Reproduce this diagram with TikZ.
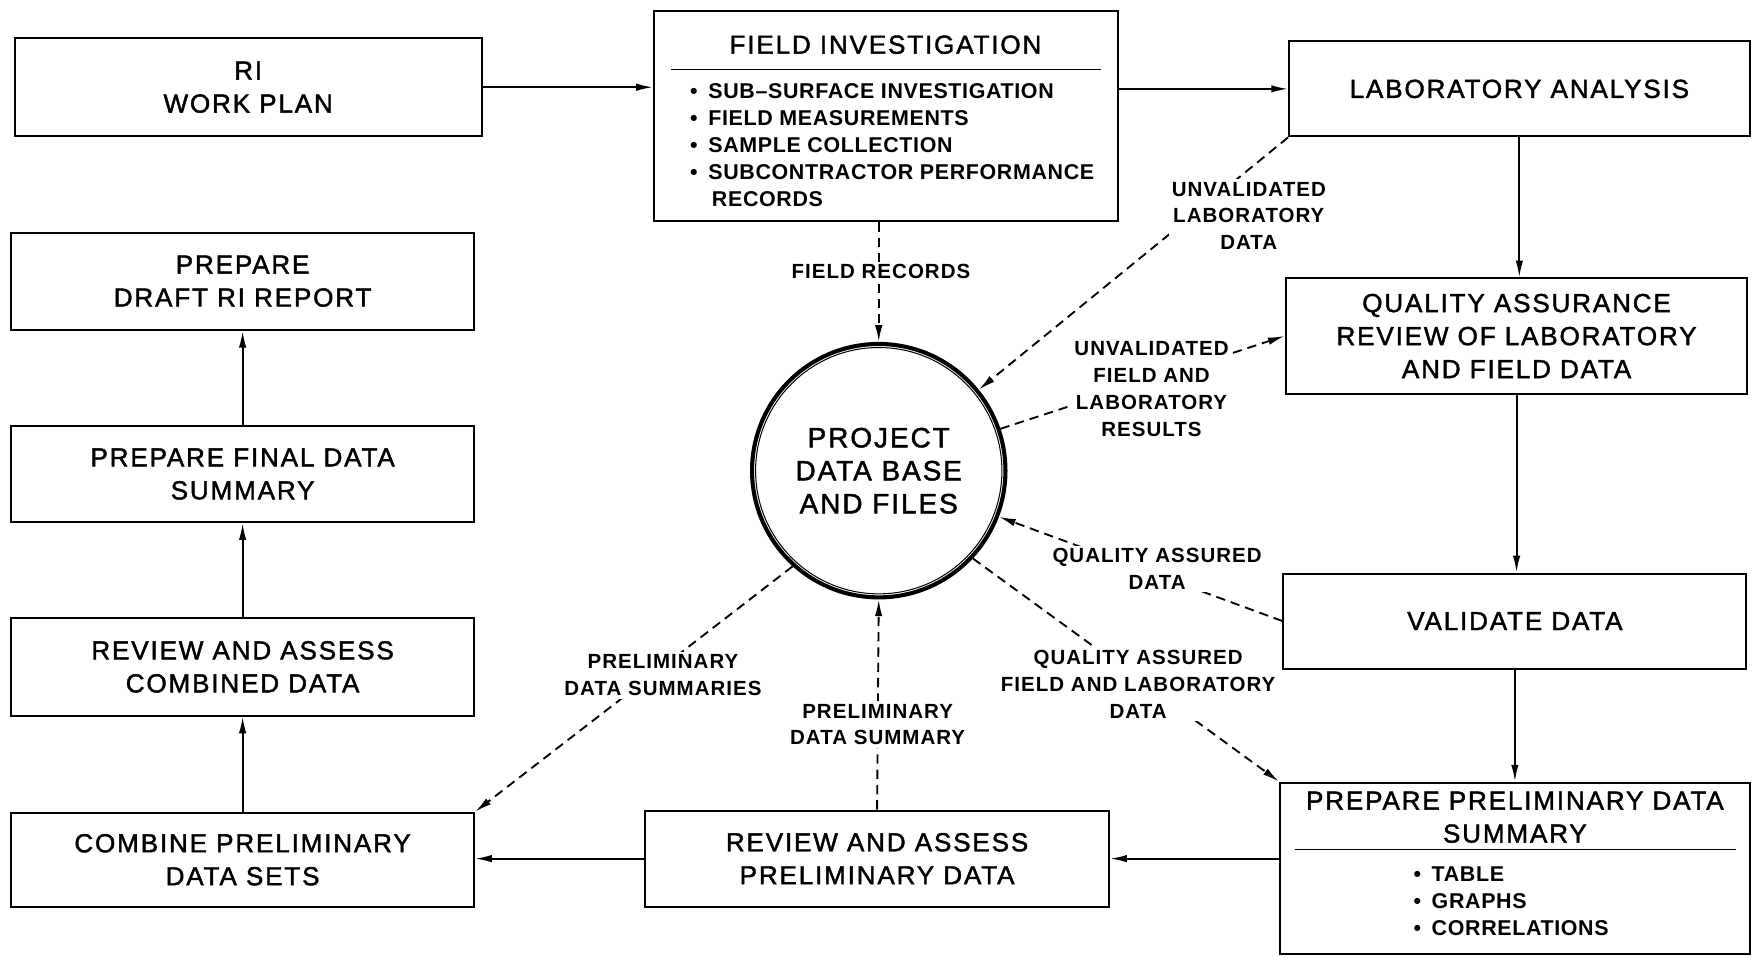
\documentclass[tikz,border=0pt]{standalone}
\usepackage{fontspec}
\setmainfont{Liberation Sans}
\newfontfamily\cadfont{Liberation Sans}[LetterSpace=7, FakeBold=1.6]
\newfontfamily\cadbold{Liberation Sans}[UprightFont={* Bold}, LetterSpace=5]
\newfontfamily\cadlist{Liberation Sans}[UprightFont={* Bold}, LetterSpace=3]
\usetikzlibrary{arrows.meta}
\begin{document}
\begin{tikzpicture}[x=0.6pt,y=-0.6pt,
  box/.style={draw, line width=1.1pt, rectangle, inner sep=0pt, align=center,
    font=\cadfont\fontsize{14}{17.7}\selectfont},
  txt/.style={inner sep=0pt, align=center, font=\cadfont\fontsize{14}{17.7}\selectfont},
  items/.style={inner sep=0pt, align=left, font=\cadlist\fontsize{11.5}{14.6}\selectfont},
  flow/.style={line width=1pt, -{Latex[length=9pt,width=4pt]}},
  dataflow/.style={line width=1pt, dash pattern=on 5pt off 3.2pt, -{Latex[length=9pt,width=4pt]}},
  lbl/.style={fill=white, inner sep=1.5pt, align=center, font=\cadbold\fontsize{11}{14.4}\selectfont}
]
\useasboundingbox (0,0) rectangle (1568,856);

% ---- process boxes ----
\node[box, minimum width=250.8pt, minimum height=52.8pt] (ri) at (222,78) {RI\\WORK PLAN};
\node[box, minimum width=249pt, minimum height=112.8pt] (fi) at (792.5,104) {};
\node[box, minimum width=247.2pt, minimum height=51pt] (lab) at (1359,79.5) {LABORATORY ANALYSIS};
\node[box, minimum width=247.8pt, minimum height=61.8pt] (qa) at (1356.5,300.5)
  {QUALITY ASSURANCE\\REVIEW OF LABORATORY\\AND FIELD DATA};
\node[box, minimum width=248.4pt, minimum height=51pt] (val) at (1355,555.5) {VALIDATE DATA};
\node[box, minimum width=252pt, minimum height=91.8pt] (prep) at (1355,776.5) {};
\node[box, minimum width=249pt, minimum height=51.6pt] (rp) at (784.5,768) {REVIEW AND ASSESS\\PRELIMINARY DATA};
\node[box, minimum width=248.4pt, minimum height=50.4pt] (comb) at (217,769) {COMBINE PRELIMINARY\\DATA SETS};
\node[box, minimum width=248.4pt, minimum height=52.2pt] (rc) at (217,596.5) {REVIEW AND ASSESS\\COMBINED DATA};
\node[box, minimum width=248.4pt, minimum height=51.6pt] (fin) at (217,424) {PREPARE FINAL DATA\\SUMMARY};
\node[box, minimum width=248.4pt, minimum height=52.2pt] (dr) at (217,251.5) {PREPARE\\DRAFT RI REPORT};

% ---- contents of the field investigation box ----
\node[txt] (fititle) at (792,40) {FIELD INVESTIGATION};
\draw[line width=0.8pt] (600,62) coordinate (firuleA) -- (985,62) coordinate (firuleB);
\node[items, anchor=north west] (filist) at (617,74)
  {\textbullet\enspace SUB–SURFACE INVESTIGATION\\
   \textbullet\enspace FIELD MEASUREMENTS\\
   \textbullet\enspace SAMPLE COLLECTION\\
   \textbullet\enspace SUBCONTRACTOR PERFORMANCE\\
   \phantom{\textbullet\enspace}\,RECORDS};

% ---- contents of the preliminary summary box ----
\node[txt] (preptitle) at (1355,731) {PREPARE PRELIMINARY DATA\\SUMMARY};
\draw[line width=0.8pt] (1158,760) coordinate (preruleA) -- (1553,760) coordinate (preruleB);
\node[items, anchor=north west] (preplist) at (1264,775)
  {\textbullet\enspace TABLE\\ \textbullet\enspace GRAPHS\\ \textbullet\enspace CORRELATIONS};

% ---- central data store: heavy ring with a thin inner line ----
\node[circle, draw, line width=2.2pt, minimum size=136pt, inner sep=0pt, align=center,
  font=\cadfont\fontsize{15}{17.7}\selectfont] (db) at (786,421) {PROJECT\\DATA BASE\\AND FILES};
\draw[line width=0.55pt] (db.center) circle (66.1pt);

% ---- process flow ----
\draw[flow] (ri.east) -- (fi.west |- ri.east);
\draw[flow] (fi.east |- lab.west) -- (lab.west);
\draw[flow] (lab.south) -- (lab.south |- qa.north);
\draw[flow] (qa.south) -- (qa.south |- val.north);
\draw[flow] (val.south) -- (val.south |- prep.north);
\draw[flow] (prep.west |- rp.east) -- (rp.east);
\draw[flow] (rp.west) -- (comb.east |- rp.west);
\draw[flow] (comb.north) -- (rc.south);
\draw[flow] (rc.north) -- (fin.south);
\draw[flow] (fin.north) -- (dr.south);

% ---- data flows to and from the data base ----
\draw[dataflow] (db.north |- fi.south) -- (db.north);
\draw[dataflow] (lab.south west) -- (db.39);
\draw[dataflow] (db.19) -- (qa.west);
\draw[dataflow] (val.west) -- (db.-21);
\draw[dataflow] (db.-43) -- (prep.north west);
\draw[dataflow] (db.228) -- (comb.north east);
\draw[dataflow] (rp.north) -- (db.south);

% ---- data flow labels ----
\node[lbl] (lfr) at (788,243) {FIELD RECORDS};
\node[lbl] (luld) at (1117,193) {UNVALIDATED\\LABORATORY\\DATA};
\node[lbl] (lufl) at (1030,348) {UNVALIDATED\\FIELD AND\\LABORATORY\\RESULTS};
\node[lbl] (lqad) at (1035,509) {QUALITY ASSURED\\DATA};
\node[lbl] (lqaf) at (1018,612) {QUALITY ASSURED\\FIELD AND LABORATORY\\DATA};
\node[lbl] (lpds) at (593,604) {PRELIMINARY\\DATA SUMMARIES};
\node[lbl] (lpd) at (785,648) {PRELIMINARY\\DATA SUMMARY};
\end{tikzpicture}
\end{document}
